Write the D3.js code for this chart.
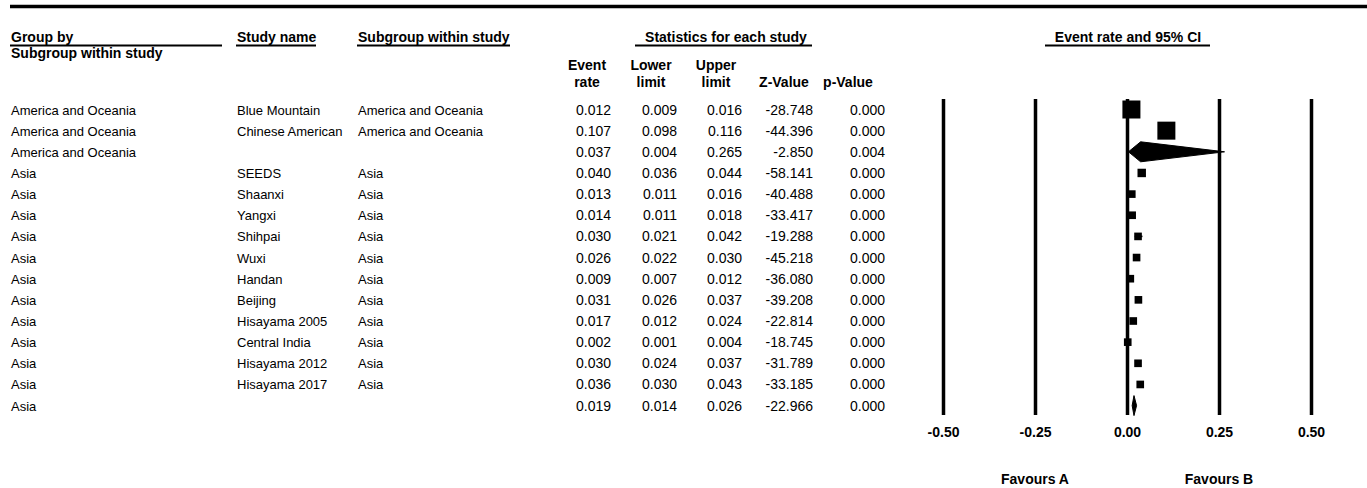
<!DOCTYPE html>
<html>
<head>
<meta charset="utf-8">
<script src="https://cdn.jsdelivr.net/npm/d3@7"></script>
<style>
  body { margin: 0; background: #fff; }
  svg { font-family: "Liberation Sans", Arial, sans-serif; }
</style>
</head>
<body>
<svg id="chart" width="1367" height="488"></svg>
<script>
const groups = ['America and Oceania', 'America and Oceania', 'America and Oceania',
  'Asia', 'Asia', 'Asia', 'Asia', 'Asia', 'Asia', 'Asia', 'Asia', 'Asia', 'Asia', 'Asia', 'Asia'];
const studies = ['Blue Mountain', 'Chinese American', '', 'SEEDS', 'Shaanxi', 'Yangxi', 'Shihpai',
  'Wuxi', 'Handan', 'Beijing', 'Hisayama 2005', 'Central India', 'Hisayama 2012', 'Hisayama 2017', ''];
const subgroups = ['America and Oceania', 'America and Oceania', '', 'Asia', 'Asia', 'Asia', 'Asia',
  'Asia', 'Asia', 'Asia', 'Asia', 'Asia', 'Asia', 'Asia', ''];
const eventRate = [0.012, 0.107, 0.037, 0.040, 0.013, 0.014, 0.030, 0.026, 0.009, 0.031, 0.017, 0.002, 0.030, 0.036, 0.019];
const lowerLimit = [0.009, 0.098, 0.004, 0.036, 0.011, 0.011, 0.021, 0.022, 0.007, 0.026, 0.012, 0.001, 0.024, 0.030, 0.014];
const upperLimit = [0.016, 0.116, 0.265, 0.044, 0.016, 0.018, 0.042, 0.030, 0.012, 0.037, 0.024, 0.004, 0.037, 0.043, 0.026];
const zValue = [-28.748, -44.396, -2.850, -58.141, -40.488, -33.417, -19.288, -45.218, -36.080, -39.208, -22.814, -18.745, -31.789, -33.185, -22.966];
const pValue = [0.000, 0.000, 0.004, 0.000, 0.000, 0.000, 0.000, 0.000, 0.000, 0.000, 0.000, 0.000, 0.000, 0.000, 0.000];
// relative weight within subgroup (%), 0 marks a subgroup summary row
const weights = [50, 50, 0, 11, 9, 9, 9, 9, 9, 9, 9, 9, 9, 9, 0];
const xTicks = [-0.50, -0.25, 0.00, 0.25, 0.50];

const svg = d3.select('#chart');
const locale = d3.formatLocale({ decimal: '.', thousands: ',', grouping: [3], currency: ['', ''], minus: '-' });
const f3 = locale.format('.3f');
const f2 = locale.format('.2f');
const rows = d3.range(groups.length);

const x = d3.scaleLinear().domain([-0.5, 0.5]).range([943, 1311]);
const y = d3.scalePoint().domain(rows).range([109.5, 405.6]);
const box = d3.scaleSqrt().domain([0, 50]).range([0, 18]);

// top rule
svg.append('line').attr('x1', 10).attr('x2', 1367).attr('y1', 6.5).attr('y2', 6.5)
  .attr('stroke', '#000').attr('stroke-width', 3.5);

// headers
const headers = [
  { t: 'Group by', x: 11, a: 'start', u: [10, 222] },
  { t: 'Study name', x: 237, a: 'start', u: [236, 316] },
  { t: 'Subgroup within study', x: 358, a: 'start', u: [357, 510] },
  { t: 'Statistics for each study', x: 726, a: 'middle', u: [635, 812] },
  { t: 'Event rate and 95% CI', x: 1128, a: 'middle', u: [1045, 1210] }
];
const hg = svg.append('g').attr('font-weight', 'bold').attr('font-size', 14);
headers.forEach(h => {
  hg.append('text').attr('x', h.x).attr('y', 42).attr('text-anchor', h.a).text(h.t);
  hg.append('line').attr('x1', h.u[0]).attr('x2', h.u[1]).attr('y1', 45.5).attr('y2', 45.5)
    .attr('stroke', '#000').attr('stroke-width', 2);
});
hg.append('text').attr('x', 11).attr('y', 58).text('Subgroup within study');

const colHeads = [
  { l: ['Event', 'rate'], x: 587 },
  { l: ['Lower', 'limit'], x: 651 },
  { l: ['Upper', 'limit'], x: 716 },
  { l: ['', 'Z-Value'], x: 784 },
  { l: ['', 'p-Value'], x: 848 }
];
colHeads.forEach(c => {
  c.l.forEach((s, i) => {
    hg.append('text').attr('x', c.x).attr('y', 70 + i * 16.5).attr('text-anchor', 'middle').text(s);
  });
});

// table body
const body = svg.append('g').attr('font-size', 13);
const textCols = [{ v: groups, x: 11 }, { v: studies, x: 237 }, { v: subgroups, x: 358 }];
textCols.forEach(c => {
  body.append('g').selectAll('text').data(rows).join('text')
    .attr('x', c.x).attr('y', d => y(d) + 5).text(d => c.v[d]);
});
const numCols = [
  { v: eventRate, x: 611 }, { v: lowerLimit, x: 677 }, { v: upperLimit, x: 742 },
  { v: zValue, x: 813 }, { v: pValue, x: 885 }
];
numCols.forEach(c => {
  body.append('g').attr('font-size', 14).attr('text-anchor', 'end')
    .selectAll('text').data(rows).join('text')
    .attr('x', c.x).attr('y', d => y(d) + 5).text(d => f3(c.v[d]));
});

// forest plot grid lines via axis
const axis = d3.axisBottom(x).tickValues(xTicks).tickSize(316).tickPadding(12).tickFormat(f2);
const ag = svg.append('g').attr('transform', 'translate(0,99)').call(axis);
ag.select('.domain').remove();
ag.selectAll('line').attr('stroke', '#000').attr('stroke-width', 3.5);
ag.selectAll('text').attr('font-family', '"Liberation Sans", Arial, sans-serif')
  .attr('font-size', 14).attr('font-weight', 'bold').attr('fill', '#000');

// CI whiskers and boxes
const studyRows = rows.filter(d => weights[d] > 0);
const sumRows = rows.filter(d => weights[d] === 0);
svg.append('g').selectAll('line').data(studyRows).join('line')
  .attr('x1', d => x(lowerLimit[d])).attr('x2', d => x(upperLimit[d]))
  .attr('y1', d => y(d)).attr('y2', d => y(d))
  .attr('stroke', '#000').attr('stroke-width', 1.5);
svg.append('g').selectAll('rect').data(studyRows).join('rect')
  .attr('x', d => x(eventRate[d]) - box(weights[d]) / 2)
  .attr('y', d => y(d) - box(weights[d]) / 2)
  .attr('width', d => box(weights[d])).attr('height', d => box(weights[d]))
  .attr('fill', '#000');
svg.append('g').selectAll('path').data(sumRows).join('path')
  .attr('d', d => {
    const c = y(d);
    return `M${x(lowerLimit[d])},${c}L${x(eventRate[d])},${c - 10}L${x(upperLimit[d])},${c}L${x(eventRate[d])},${c + 10}Z`;
  })
  .attr('fill', '#000').attr('stroke', '#000').attr('stroke-width', 1);

// favours labels
svg.append('g').attr('font-size', 14).attr('font-weight', 'bold').attr('text-anchor', 'middle')
  .selectAll('text').data([[-0.25, 'Favours A'], [0.25, 'Favours B']]).join('text')
  .attr('x', d => x(d[0])).attr('y', 484).text(d => d[1]);
</script>
</body>
</html>
